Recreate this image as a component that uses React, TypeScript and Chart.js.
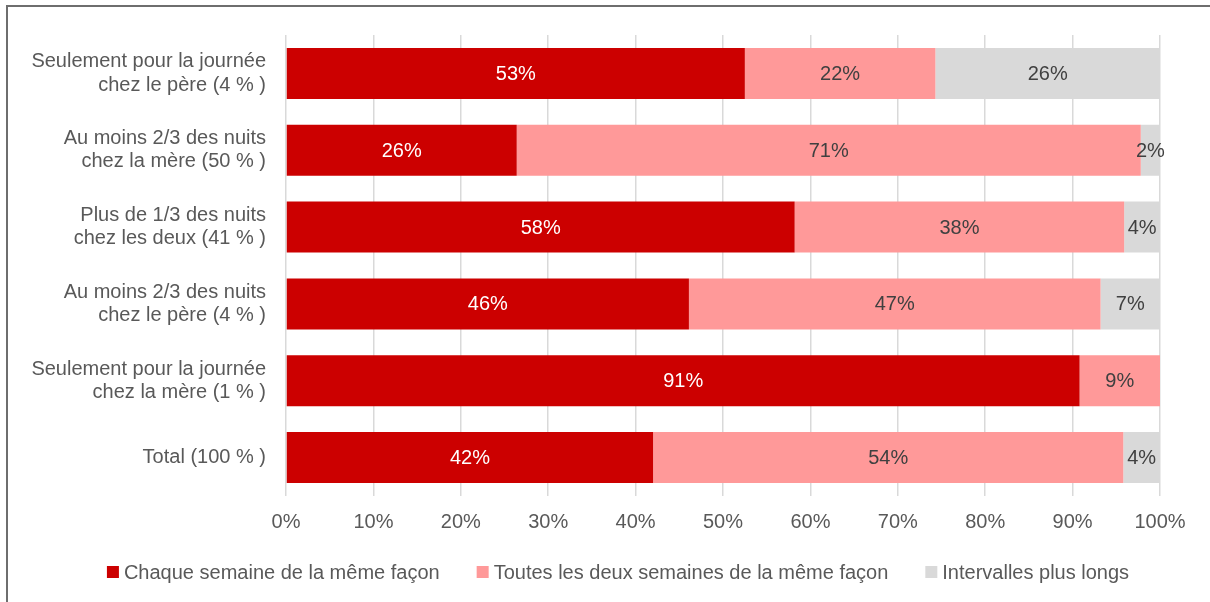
import React, { useEffect, useRef } from "react";
import { Chart, registerables } from "chart.js";

Chart.register(...registerables);

const categories: string[][] = [
  ["Seulement pour la journée", "chez le père (4 % )"],
  ["Au moins 2/3 des nuits", "chez la mère (50 % )"],
  ["Plus de 1/3 des nuits", "chez les deux (41 % )"],
  ["Au moins 2/3 des nuits", "chez le père (4 % )"],
  ["Seulement pour la journée", "chez la mère (1 % )"],
  ["Total (100 % )"],
];

const seriesNames = [
  "Chaque semaine de la même façon",
  "Toutes les deux semaines de la même façon",
  "Intervalles plus longs",
];

const chaqueSemaine = [52.5, 26.4, 58.2, 46.1, 90.8, 42.0];
const deuxSemaines = [21.8, 71.4, 37.7, 47.1, 9.2, 53.8];
const intervalles = [25.7, 2.2, 4.1, 6.8, 0, 4.2];

const xTicks = [0, 10, 20, 30, 40, 50, 60, 70, 80, 90, 100];

const colors = ["#CC0000", "#FF9999", "#D9D9D9"];
const labelColors = ["#FFFFFF", "#404040", "#404040"];
const FONT = "'Liberation Sans', Arial, sans-serif";

const barLabelPlugin = {
  id: "barLabels",
  afterDatasetsDraw(chart: any) {
    const ctx = chart.ctx;
    ctx.save();
    ctx.font = `20px ${FONT}`;
    ctx.textAlign = "center";
    ctx.textBaseline = "middle";
    chart.data.datasets.forEach((ds: any, di: number) => {
      const meta = chart.getDatasetMeta(di);
      meta.data.forEach((el: any, i: number) => {
        const v = ds.data[i];
        if (!v) return;
        const cx = (el.x + el.base) / 2;
        ctx.fillStyle = labelColors[di];
        ctx.fillText(Math.round(v) + "%", cx, el.y + 1);
      });
    });
    ctx.restore();
  },
};

const customLegendPlugin = {
  id: "customLegend",
  afterDraw(chart: any) {
    const ctx = chart.ctx;
    ctx.save();
    ctx.font = `20px ${FONT}`;
    ctx.textBaseline = "middle";
    ctx.textAlign = "left";
    const box = 12;
    const gap = 5;
    const spacing = 37;
    const items = chart.data.datasets.map((ds: any) => ({
      text: ds.label,
      color: ds.backgroundColor,
      w: box + gap + ctx.measureText(ds.label).width,
    }));
    const total = items.reduce((s: number, it: any) => s + it.w, 0) + spacing * (items.length - 1);
    const centerX = 618;
    const y = 572;
    let x = centerX - total / 2;
    items.forEach((it: any) => {
      ctx.fillStyle = it.color;
      ctx.fillRect(x, y - box / 2, box, box);
      ctx.fillStyle = "#595959";
      ctx.fillText(it.text, x + box + gap, y + 1);
      x += it.w + spacing;
    });
    ctx.restore();
  },
};

export default function App() {
  const ref = useRef<HTMLCanvasElement | null>(null);

  useEffect(() => {
    if (!ref.current) return;
    const chart = new Chart(ref.current, {
      type: "bar",
      data: {
        labels: categories,
        datasets: [chaqueSemaine, deuxSemaines, intervalles].map((d, i) => ({
          label: seriesNames[i],
          data: d,
          backgroundColor: colors[i],
          borderWidth: 0,
          categoryPercentage: 1,
          barPercentage: 0.664,
        })),
      },
      options: {
        indexAxis: "y",
        animation: false,
        responsive: false,
        maintainAspectRatio: false,
        layout: { padding: { top: 35, right: 50, left: 0, bottom: 72 } },
        scales: {
          x: {
            stacked: true,
            min: 0,
            max: 100,
            afterBuildTicks(scale: any) {
              scale.ticks = xTicks.map((v) => ({ value: v }));
            },
            afterFit(scale: any) {
              scale.height = 34;
            },
            ticks: {
              callback: (v: any) => v + "%",
              color: "#595959",
              font: { family: FONT, size: 20 },
              padding: 14,
              maxRotation: 0,
            },
            grid: { color: "#D9D9D9", lineWidth: 1.5, drawTicks: false },
            border: { display: false },
          },
          y: {
            stacked: true,
            afterFit(scale: any) {
              scale.width = 286;
            },
            ticks: {
              color: "#595959",
              font: { family: FONT, size: 20, lineHeight: 1.17 },
              padding: 20,
            },
            grid: { display: false, drawTicks: false },
            border: { display: false },
          },
        },
        plugins: {
          legend: { display: false },
          tooltip: { enabled: false },
        },
      },
      plugins: [barLabelPlugin, customLegendPlugin],
    } as any);
    return () => chart.destroy();
  }, []);

  return (
    <div style={{ position: "fixed", left: 0, top: 0, width: 1210, height: 602, background: "#fff" }}>
      <div
        style={{
          position: "absolute",
          left: 6,
          top: 5,
          width: 1300,
          height: 700,
          borderLeft: "2px solid #6E6E6E",
          borderTop: "2px solid #6E6E6E",
          boxSizing: "border-box",
        }}
      />
      <canvas ref={ref} width={1210} height={602} style={{ position: "absolute", left: 0, top: 0, display: "block" }} />
    </div>
  );
}
